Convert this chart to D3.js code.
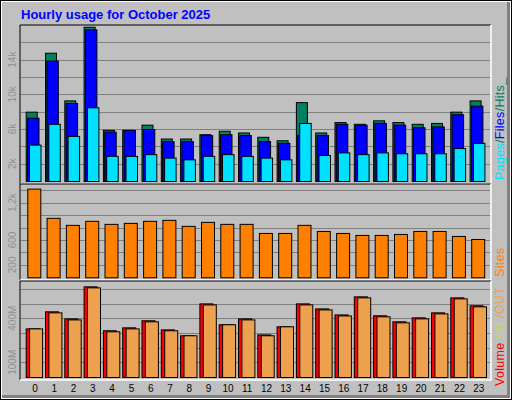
<!DOCTYPE html>
<html><head><meta charset="utf-8">
<script src="https://cdn.jsdelivr.net/npm/d3@7"></script>
<style>body{margin:0;background:#fff}svg{display:block}text{font-family:"Liberation Sans",Arial,sans-serif}</style>
</head><body><div id="chart"></div>
<script>
var hours = d3.range(24)
var hits  = [8.0,14.8,9.3,17.8,5.9,5.9,6.5,4.9,4.9,5.4,5.8,5.6,5.1,4.7,9.1,5.6,6.8,6.6,7.0,6.8,6.6,6.7,8.0,9.3]
var files = [7.3,13.9,9.0,17.5,5.7,5.9,6.0,4.6,4.6,5.3,5.4,5.3,4.6,4.4,5.3,5.3,6.6,6.5,6.7,6.5,6.2,6.3,7.7,8.7]
var pages = [4.2,6.6,5.2,8.5,2.9,2.9,3.1,2.7,2.5,2.9,3.1,2.9,2.7,2.5,6.7,3.0,3.3,3.1,3.3,3.2,3.2,3.2,3.8,4.4]
var sites = [1426,956,843,908,859,875,908,924,827,891,859,859,713,713,843,745,713,681,681,697,745,745,665,616]
var volIn  = [331,447,399,617,318,338,386,324,284,501,359,399,290,345,501,467,426,549,420,379,406,440,542,488]
var volOut = [331,440,392,610,311,331,379,318,284,494,359,392,284,345,494,460,419,542,413,372,399,433,535,481]
var topTicks = [2,6,10,14], topTickLabels = ["2k","6k","10k","14k"]
var midTicks = [200,600,1200], midTickLabels = ["200","600","1,2k"]
var botTicks = [100,400], botTickLabels = ["100M","400M"]

var W = 512, H = 400
var svg = d3.select("#chart").append("svg").attr("width", W).attr("height", H)
svg.append("rect").attr("width", W).attr("height", H).attr("fill", "#fff")
svg.append("rect").attr("x", 2).attr("y", 2).attr("width", W - 4).attr("height", H - 4).attr("fill", "#808080")
svg.append("rect").attr("x", 2).attr("y", 2).attr("width", W - 7).attr("height", H - 7).attr("fill", "#c0c0c0")
svg.append("rect").attr("x", 0.5).attr("y", 0.5).attr("width", W - 1).attr("height", H - 1).attr("fill", "none").attr("stroke", "#000")

svg.append("text").attr("x", 21).attr("y", 19).attr("fill", "#0000ff")
  .style("font-size", "13px").style("font-weight", "bold").text("Hourly usage for October 2025")

var x = d3.scaleBand().domain(hours).range([24.3, 24.3 + 19.3 * 24])

// one panel: background, grid, tick labels, frame
function panel(y0, y1, yScale, ticks, labels, step, maxv) {
  svg.append("rect").attr("x", 20).attr("y", y0).attr("width", 471).attr("height", y1 - y0)
    .attr("fill", "#c0c0c0").attr("stroke", "none")
  var g = svg.append("g")
  d3.range(step, maxv, step).forEach(function (v) {
    var yy = Math.round(yScale(v)) + 0.5
    g.append("line").attr("x1", 21).attr("x2", 490).attr("y1", yy).attr("y2", yy)
      .attr("stroke", "#808080").attr("stroke-width", 1.2)
  })
  ticks.forEach(function (v, i) {
    svg.append("text").attr("transform", "translate(16," + yScale(v) + ") rotate(-90)")
      .attr("text-anchor", "middle").attr("fill", "#909090").style("font-size", "10px").text(labels[i])
  })
  svg.append("path").attr("d", "M20," + (y1 + 2) + "V" + y0 + "H491").attr("fill", "none").attr("stroke", "#000")
  svg.append("path").attr("d", "M20," + (y1 + 2) + "H491V" + y0).attr("fill", "none").attr("stroke", "#fff").attr("stroke-width", 1.5)
}

var yTop = d3.scaleLinear().domain([0, 18]).range([181, 25])
var yMid = d3.scaleLinear().domain([0, 1500]).range([277.3, 184])
var yBot = d3.scaleLinear().domain([0, 650]).range([377, 281.5])

panel(25, 182, yTop, topTicks, topTickLabels, 2, 18)
panel(184, 278, yMid, midTicks, midTickLabels, 200, 1500)
panel(281, 378, yBot, botTicks, botTickLabels, 100, 650)

function bars(data, yScale, off, w, color) {
  svg.append("g").selectAll("rect").data(data).enter().append("rect")
    .attr("x", function (d, i) { return x(i) + off + 0.5 })
    .attr("y", function (d) { return yScale(d) + 0.5 })
    .attr("width", w)
    .attr("height", function (d) { return yScale.range()[0] - yScale(d) })
    .attr("fill", color).attr("stroke", "#000").attr("stroke-width", 1)
}
bars(hits, yTop, 1.4, 11, "#008060")
bars(files, yTop, 2.7, 11.5, "#0000ff")
bars(pages, yTop, 4.7, 11.5, "#00e0ff")
bars(sites, yMid, 3, 13, "#ff8000")
bars(volIn, yBot, 1.4, 13, "#ff0000")
bars(volOut, yBot, 4.8, 13, "#eda04e")

svg.append("g").selectAll("text").data(hours).enter().append("text")
  .attr("x", function (d) { return x(d) + x.bandwidth() / 2 + 1 })
  .attr("y", 392).attr("text-anchor", "middle").attr("fill", "#000")
  .style("font-size", "10px").text(function (d) { return d })

function sideLabel(yy, parts) {
  var t = svg.append("text").attr("transform", "translate(504," + yy + ") rotate(-90)")
    .style("font-size", "12.5px").style("letter-spacing", "0.3px")
  parts.forEach(function (p) { t.append("tspan").attr("fill", p[1]).text(p[0]) })
}
sideLabel(180, [["Pages", "#00e0ff"], ["/", "#008060"], ["Files", "#0000ff"], ["/", "#008060"], ["Hits_", "#008060"]])
sideLabel(277, [["Sites", "#ff8000"]])
sideLabel(386, [["Volume ", "#ff0000"], ["/IN ", "#c0e040"], ["/OUT", "#eda04e"]])
</script></body></html>
